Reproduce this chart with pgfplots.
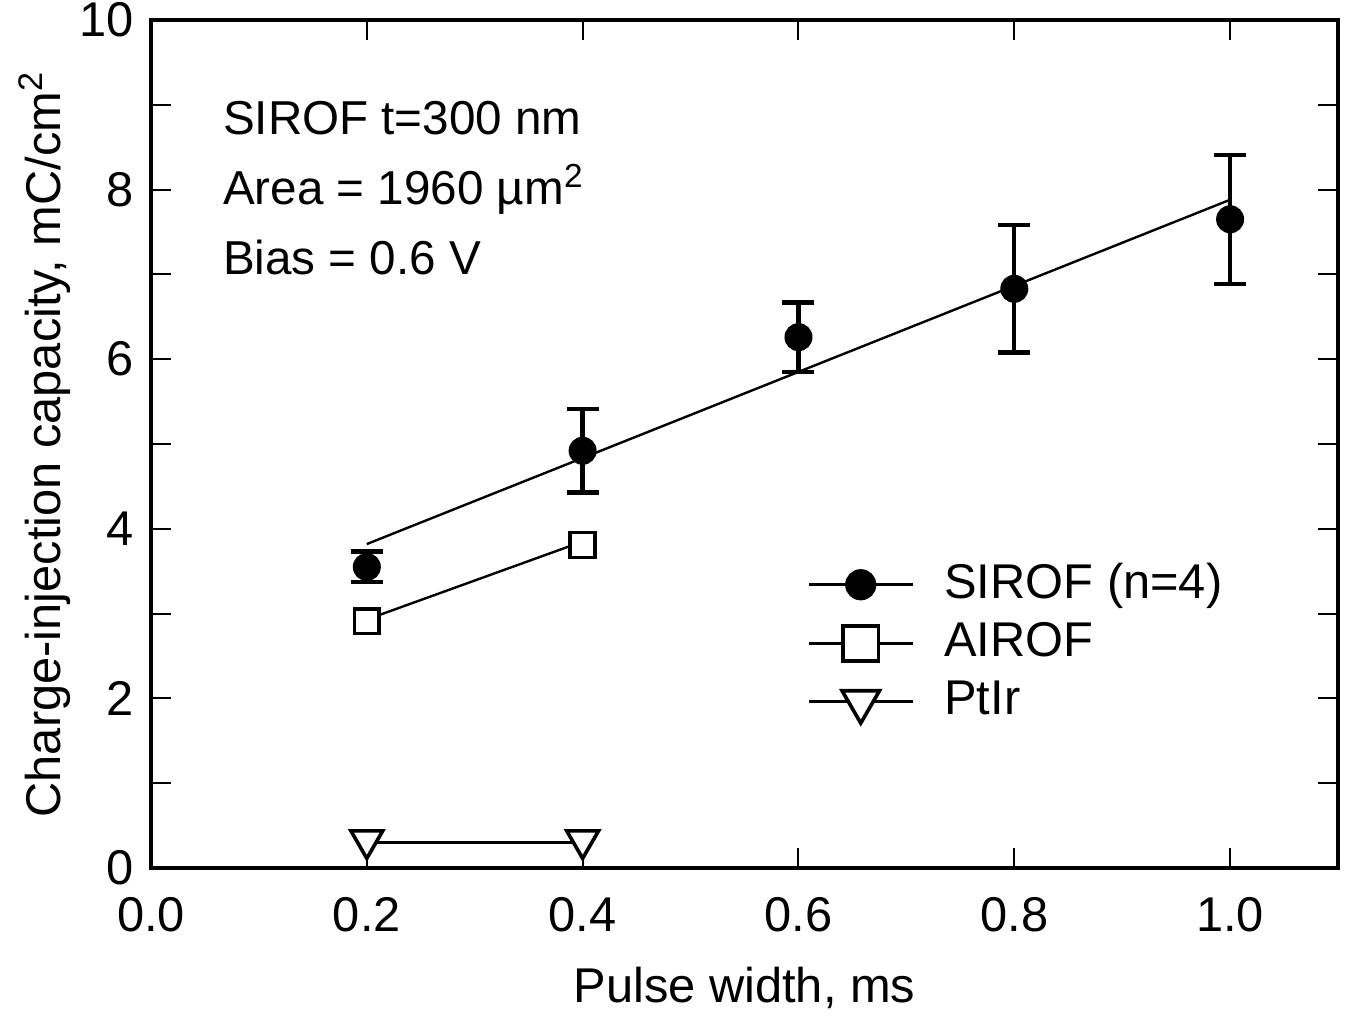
\documentclass[border=0pt]{standalone}
\usepackage{pgfplots}
\pgfplotsset{compat=1.18}
\usepackage{fontspec}
\setmainfont{Liberation Sans}
\begin{document}
\fontsize{12.2}{14.5}\selectfont
\begin{tikzpicture}
\begin{axis}[
  name=ax,
  scale only axis,
  width=296.75pt, height=212pt,
  xmin=0, xmax=1.1, ymin=0, ymax=10,
  xtick={0,0.2,0.4,0.6,0.8,1.0},
  ytick={0,2,4,6,8,10},
  minor ytick={1,3,5,7,9},
  tick align=inside,
  major tick length=5pt, minor tick length=5pt,
  tick style={line width=0.5pt, black},
  axis line style={line width=0.8pt},
  xticklabel style={yshift=-3pt, /pgf/number format/.cd, fixed, fixed zerofill, precision=1},
  yticklabel style={/pgf/number format/.cd, fixed, precision=0},
  /pgf/number format/assume math mode=true,
  xlabel={Pulse width, ms},
  ylabel={Charge-injection capacity, mC/cm\textsuperscript{2}},
  xlabel style={yshift=-0.5pt},
  ylabel style={yshift=-6pt},
  legend style={draw=none, fill=none, at={(rel axis cs:0.542,0.379)}, anchor=north west,
    row sep=0.2pt, column sep=5.5pt, font=\fontsize{12.2}{14.5}\selectfont},
  legend cell align=left,
  legend image code/.code={
    \draw[line width=0.8pt] (0pt,0pt) -- (26pt,0pt);
    \draw[line width=0.8pt] plot coordinates {(13pt,0pt)};
  },
]
% fit lines
\addplot[black, line width=0.6pt, forget plot] coordinates {(0.2,3.82) (1.0,7.88)};
\addplot[black, line width=0.6pt, forget plot] coordinates {(0.2,2.93) (0.4,3.85)};
\addplot[black, line width=0.6pt, forget plot] coordinates {(0.2,0.3) (0.4,0.3)};
% SIROF
\addplot[only marks, black, mark=*, mark size=3.3pt, forget plot,
  error bars/.cd, y dir=both, y explicit,
  error bar style={line width=1.1pt},
  error mark options={rotate=90, mark size=4pt, line width=1.1pt}]
  coordinates {
  (0.2,3.55) +- (0,0.18)
  (0.4,4.92) +- (0,0.49)
  (0.6,6.26) +- (0,0.41)
  (0.8,6.83) +- (0,0.75)
  (1.0,7.65) +- (0,0.76)
  };
% AIROF
\addplot[only marks, black, mark=square*, mark size=3.1pt, line width=0.9pt,
  mark options={fill=white}, forget plot]
  coordinates {(0.2,2.91) (0.4,3.81)};
% PtIr
\addplot[only marks, black, mark=triangle*, mark size=4.6pt, line width=0.9pt,
  mark options={fill=white, rotate=180}, forget plot]
  coordinates {(0.2,0.33) (0.4,0.33)};
% legend images
\addlegendimage{black, mark=*, mark size=3.5pt}
\addlegendentry{SIROF (n=4)}
\addlegendimage{black, mark=square*, mark size=4.4pt, mark options={fill=white, line width=0.9pt}}
\addlegendentry{AIROF}
\addlegendimage{black, mark=triangle*, mark size=5.4pt, mark options={fill=white, rotate=180, line width=0.9pt}}
\addlegendentry{PtIr}
\node[anchor=north west, align=left, inner sep=0pt, font=\fontsize{11.9}{17.5}\selectfont]
  at (rel axis cs:0.06,0.905)
  {SIROF t=300 nm\\Area = 1960 µm\textsuperscript{2}\\Bias = 0.6 V};
\end{axis}
\pgfresetboundingbox
\path[use as bounding box] (ax.south west) ++(-37.75pt,-36.75pt) rectangle ++(336.5pt,253.75pt);
\end{tikzpicture}
\end{document}
